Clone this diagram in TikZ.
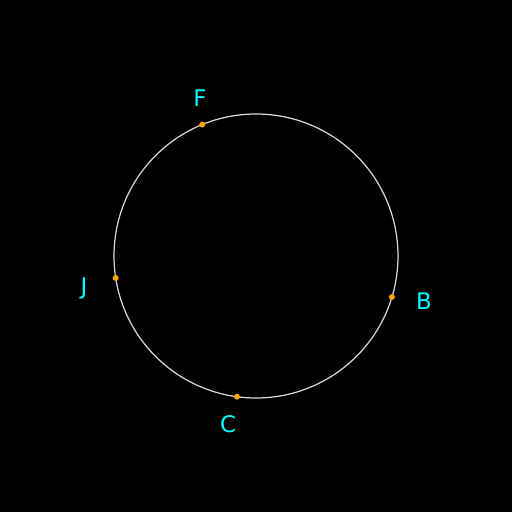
\documentclass[tikz,border=0pt]{standalone}
\usepackage{fontspec}
\setmainfont{DejaVu Sans}
\definecolor{ringgray}{RGB}{215,215,215}
\definecolor{dotorange}{RGB}{255,165,0}
\definecolor{labelcyan}{RGB}{0,255,255}

\begin{document}
\begin{tikzpicture}[x=0.02cm,y=0.02cm]
  % Black backdrop, 512 by 512.
  \fill[black] (-256,-256) rectangle (256,256);
  \useasboundingbox (-256,-256) rectangle (256,256);
  % The ring.
  \draw[ringgray,line width=0.7pt] (0,0) circle (142);
  % Points on the ring.
  \fill[dotorange] (112.25:142) circle (3) coordinate (f);
  \fill[dotorange] (-16.8:142) circle (3) coordinate (b);
  \fill[dotorange] (262.3:142) circle (3) coordinate (c);
  \fill[dotorange] (188.9:142) circle (3) coordinate (j);
  % Their letters.
  \node[labelcyan,font=\fontsize{13}{15}\selectfont] (lf) at (-56,158) {F};
  \node[labelcyan,font=\fontsize{13}{15}\selectfont] (lb) at (168,-45) {B};
  \node[labelcyan,font=\fontsize{13}{15}\selectfont] (lc) at (-28,-168) {C};
  \node[labelcyan,font=\fontsize{13}{15}\selectfont] (lj) at (-172,-32) {J};
\end{tikzpicture}
\end{document}
